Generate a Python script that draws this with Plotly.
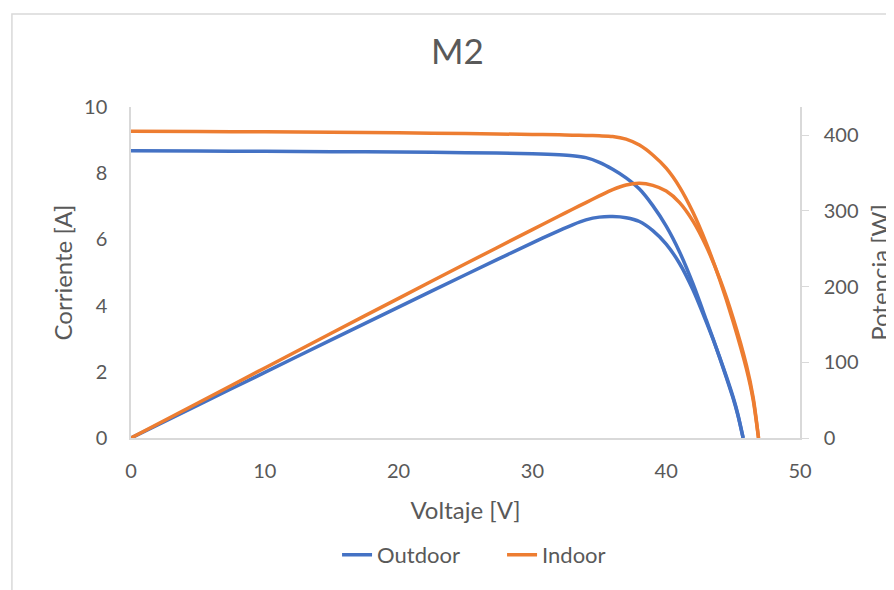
import plotly.graph_objects as go

# Outdoor curve (voltage [V], current [A], power [W])
volt_out = [0, 5, 10, 15, 20, 25, 30, 32, 33, 34, 35, 36, 37, 38, 39, 40, 41, 42, 43, 43.5, 44,
            44.5, 45, 45.35, 45.75]
curr_out = [8.68, 8.67, 8.66, 8.65, 8.64, 8.62, 8.59, 8.56, 8.53, 8.47, 8.33, 8.12, 7.86, 7.52,
            7.02, 6.40, 5.62, 4.66, 3.56, 3.00, 2.42, 1.82, 1.20, 0.70, 0]
pow_out = [0, 43.4, 86.6, 129.8, 172.8, 215.5, 257.7, 273.9, 281.5, 288.0, 291.6, 292.3, 290.8,
           285.8, 273.8, 256.0, 230.4, 195.7, 153.1, 130.5, 106.5, 81.0, 54.0, 31.7, 0]

# Indoor curve
volt_in = [0, 5, 10, 15, 20, 25, 30, 32, 33, 34, 35, 36, 37, 38, 39, 40, 41, 42, 43, 44, 45, 46,
           46.5, 46.9]
curr_in = [9.27, 9.26, 9.25, 9.24, 9.22, 9.20, 9.17, 9.16, 9.15, 9.14, 9.13, 9.11, 9.03, 8.85,
           8.55, 8.15, 7.58, 6.82, 5.88, 4.78, 3.52, 2.08, 1.15, 0]
pow_in = [0, 46.3, 92.5, 138.6, 184.4, 230.0, 275.1, 293.1, 302.0, 310.8, 319.6, 328.0, 334.1,
          336.3, 333.5, 326.0, 310.8, 286.4, 252.8, 210.3, 158.4, 95.7, 53.5, 0]

x_ticks = [0, 10, 20, 30, 40, 50]
i_ticks = [0, 2, 4, 6, 8, 10]
p_ticks = [0, 100, 200, 300, 400]

blue = '#4472C4'
orange = '#ED7D31'
grey_txt = '#595959'
grey_line = '#D9D9D9'
font_name = 'Lato, Calibri, Noto Sans, sans-serif'

def curve(x, y, name, color, group, axis='y', legend=True):
    return go.Scatter(x=x, y=y, mode='lines', name=name, yaxis=axis,
                      legendgroup=group, showlegend=legend,
                      line={'color': color, 'width': 3.5, 'shape': 'spline', 'smoothing': 0.8})

plots = [curve(volt_out, curr_out, 'Outdoor', blue, 'out'),
         curve(volt_in, curr_in, 'Indoor', orange, 'in'),
         curve(volt_out, pow_out, 'Outdoor', blue, 'out', 'y2', False),
         curve(volt_in, pow_in, 'Indoor', orange, 'in', 'y2', False)]

# page body adds 8px around the plot div, so the figure is 8px smaller
plot_layout = go.Layout(width=886, height=582,
                        plot_bgcolor='white', paper_bgcolor='white',
                        font={'family': font_name, 'color': grey_txt, 'size': 20},
                        title={'text': 'M2', 'x': 0.5073, 'xanchor': 'center',
                               'y': 0.9244, 'yanchor': 'middle',
                               'font': {'size': 35, 'color': grey_txt}},
                        xaxis={'range': [0, 50], 'tickvals': x_ticks, 'showgrid': False,
                               'zeroline': False, 'showline': True, 'linecolor': grey_line,
                               'linewidth': 1.5, 'ticklabelstandoff': 14, 'automargin': False,
                               'title': {'text': 'Voltaje [V]', 'font': {'size': 24},
                                         'standoff': 21}},
                        yaxis={'range': [0, 10], 'tickvals': i_ticks, 'showgrid': False,
                               'zeroline': False, 'showline': True, 'linecolor': grey_line,
                               'linewidth': 1.5, 'ticklabelstandoff': 18, 'automargin': False,
                               'title': {'text': 'Corriente [A]', 'font': {'size': 24},
                                         'standoff': 5}},
                        yaxis2={'range': [0, 437], 'tickvals': p_ticks, 'overlaying': 'y',
                                'side': 'right', 'showgrid': False, 'zeroline': False,
                                'showline': True, 'linecolor': grey_line, 'linewidth': 1.5,
                                'ticks': 'outside', 'ticklen': 7, 'tickcolor': grey_line,
                                'ticklabelstandoff': 11, 'automargin': False,
                                'title': {'text': 'Potencia [W]', 'font': {'size': 24},
                                          'standoff': 30}},
                        legend={'orientation': 'h', 'x': 0.308, 'xanchor': 'left',
                                'entrywidth': 120, 'entrywidthmode': 'pixels',
                                'y': -0.353, 'yanchor': 'middle', 'font': {'size': 22}},
                        shapes=[{'type': 'rect', 'xref': 'paper', 'yref': 'paper',
                                 'x0': -0.178, 'x1': 1.154, 'y0': -0.49, 'y1': 1.281,
                                 'line': {'color': grey_line, 'width': 1.5}, 'layer': 'below'}],
                        margin=dict(l=123, r=94, t=99, b=152, autoexpand=False))

fig = go.Figure(data=plots, layout=plot_layout)
fig.write_html('out.html')
